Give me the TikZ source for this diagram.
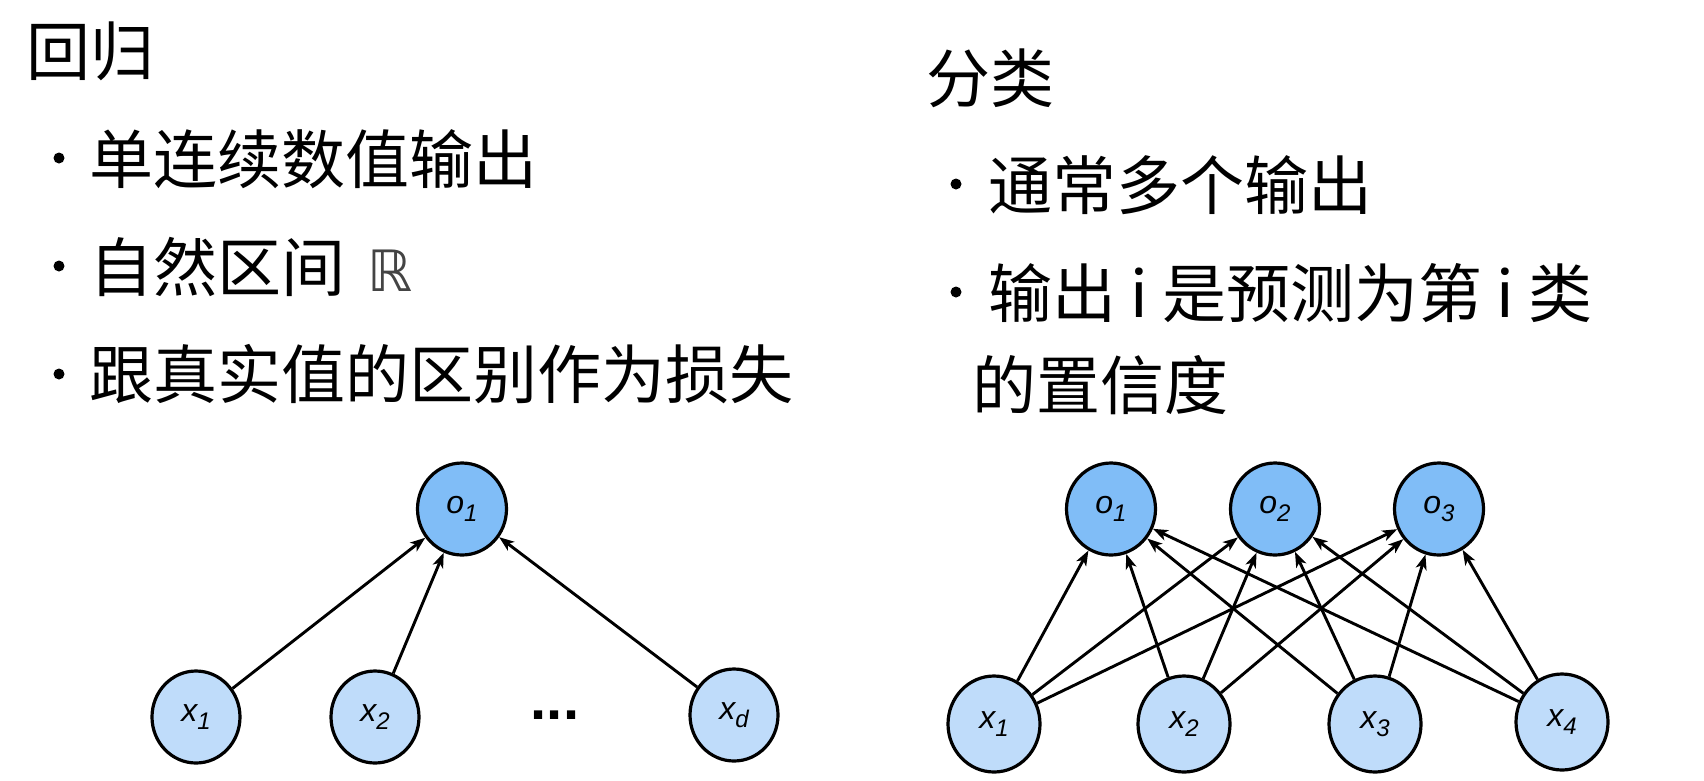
\documentclass[tikz,border=0pt]{standalone}
\usepackage{fontspec}
\setmainfont{Noto Sans CJK SC}
\newfontfamily\labfont{Liberation Sans}
\newfontfamily\dejavu{DejaVu Sans}
\usetikzlibrary{shapes.geometric,arrows.meta}
\definecolor{outblue}{HTML}{80BDF7}
\definecolor{inblue}{HTML}{BFDCFA}
\definecolor{rgray}{HTML}{444444}
\tikzset{
  big/.style={font=\fontsize{64}{64}\selectfont, inner sep=0, anchor=base west},
  bul/.style={circle, fill=black, minimum size=11pt, inner sep=0},
  neuron/.style={ellipse, draw=black, line width=3.2pt, inner sep=0},
  onode/.style={neuron, fill=outblue, minimum width=89pt, minimum height=92pt},
  inode/.style={neuron, fill=inblue, minimum width=88pt, minimum height=92pt},
  inodeb/.style={neuron, fill=inblue, minimum width=92pt, minimum height=96pt},
  conn/.style={-{Stealth[length=15pt,width=11pt,inset=4pt]}, line width=2.9pt},
}
\newcommand\nlab[2]{{\labfont\itshape\fontsize{32}{32}\selectfont #1\raisebox{-8pt}{\fontsize{24}{24}\selectfont #2}}}
\begin{document}
\begin{tikzpicture}[x=1pt,y=-1pt]
\useasboundingbox (0,0) rectangle (1704,780);
\fill[white] (0,0) rectangle (1704,780);

% left texts
\node[big] (t1) at (26,75) {回归};
\node[bul] (b1) at (59,158) {};
\node[big] (l1) at (89,183) {单连续数值输出};
\node[bul] (b2) at (59,266) {};
\node[big] (l2) at (89,291) {自然区间\hspace{22pt}{\dejavu\fontsize{57}{57}\selectfont\color{rgray}ℝ}};
\node[bul] (b3) at (59,374) {};
\node[big] (l3) at (89,398) {跟真实值的区别作为损失};

% right texts
\node[big] (t2) at (926,102) {分类};
\node[bul] (b4) at (956,184) {};
\node[big] (r1) at (988,209) {通常多个输出};
\node[bul] (b5) at (956,292) {};
\node[big] (r2) at (988,317) {输出 i 是预测为第 i 类};
\node[big] (r3) at (972,409) {的置信度};

% left network
\node[onode] (lo1) at (462,509) {\nlab{o}{1}};
\node[inode] (lx1) at (196,717) {\nlab{x}{1}};
\node[inode] (lx2) at (375,717) {\nlab{x}{2}};
\node[inode] (lxd) at (734,715) {\nlab{x}{d}};
\node[anchor=base, inner sep=0, font=\labfont\bfseries\fontsize{58}{58}\selectfont] (dots) at (555,719) {...};
\draw[conn] (lx1) -- (lo1);
\draw[conn] (lx2) -- (lo1);
\draw[conn] (lxd) -- (lo1);

% right network
\node[onode] (o1) at (1111,509) {\nlab{o}{1}};
\node[onode] (o2) at (1275,509) {\nlab{o}{2}};
\node[onode] (o3) at (1439,509) {\nlab{o}{3}};
\node[inodeb] (x1) at (994,724) {\nlab{x}{1}};
\node[inodeb] (x2) at (1184,724) {\nlab{x}{2}};
\node[inodeb] (x3) at (1375,724) {\nlab{x}{3}};
\node[inodeb] (x4) at (1562,722) {\nlab{x}{4}};
\foreach \i in {x1,x2,x3,x4}{
  \foreach \j in {o1,o2,o3}{
    \draw[conn] (\i) -- (\j);
  }
}
\end{tikzpicture}
\end{document}
